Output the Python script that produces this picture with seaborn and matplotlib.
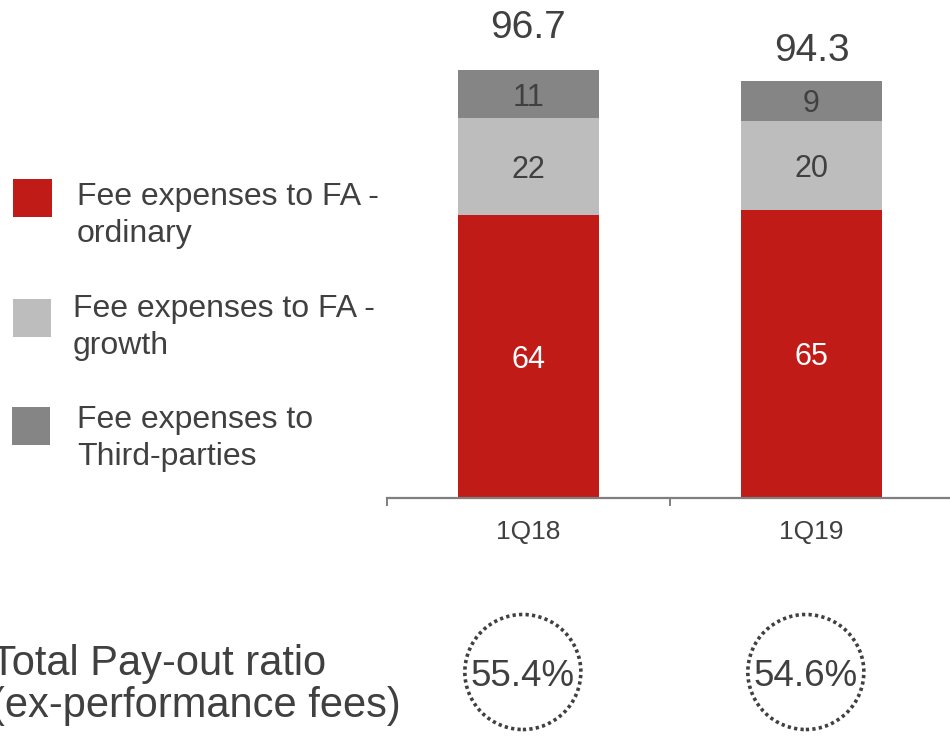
import matplotlib
matplotlib.use("Agg")
import matplotlib.pyplot as plt
import matplotlib.transforms as mtransforms
from matplotlib.patches import Rectangle, Ellipse
import pandas as pd
import seaborn as sns

# ---- data -------------------------------------------------------------
quarters = ["1Q18", "1Q19"]
fa_ordinary = [63.9, 65.1]
fa_growth = [21.9, 20.0]
third_parties = [10.9, 9.2]
totals = [96.7, 94.3]
payout_ratio = ["55.4%", "54.6%"]

series_names = ["Fee expenses to FA -\nordinary",
                "Fee expenses to FA -\ngrowth",
                "Fee expenses to\nThird-parties"]

# ---- style ------------------------------------------------------------
RED = "#C11B17"
LIGHT = "#BDBDBD"
DARK = "#858585"
TXT = "#404040"
AXIS = "#7F7F7F"

sns.set_theme(style="white")
plt.rcParams["font.family"] = ["Liberation Sans", "DejaVu Sans"]

W, H = 950, 738
fig = plt.figure(figsize=(W / 100, H / 100), dpi=100)


def fx(px):
    return px / W


def fy(py):
    return 1 - py / H


PX_PER_UNIT = 4.426
ax = fig.add_axes([fx(387), fy(498), 566 / W, 498 / H])

df = pd.DataFrame({
    "quarter": quarters,
    "ordinary": fa_ordinary,
    "growth": fa_growth,
    "third": third_parties,
})
df["b_growth"] = df["ordinary"]
df["b_third"] = df["ordinary"] + df["growth"]

sns.barplot(data=df, x="quarter", y="ordinary", order=quarters, color=RED,
            saturation=1, width=0.5, ax=ax, linewidth=0)
sns.barplot(data=df, x="quarter", y="growth", order=quarters, color=LIGHT,
            saturation=1, width=0.5, ax=ax, linewidth=0,
            bottom=df["b_growth"].to_numpy())
sns.barplot(data=df, x="quarter", y="third", order=quarters, color=DARK,
            saturation=1, width=0.5, ax=ax, linewidth=0,
            bottom=df["b_third"].to_numpy())

ax.set_xlim(-0.5, 1.5)
ax.set_ylim(0, 498 / PX_PER_UNIT)

# segment value labels
for i in range(len(quarters)):
    o, g, t = fa_ordinary[i], fa_growth[i], third_parties[i]
    ax.text(i, o / 2, f"{o:.0f}", ha="center", va="center_baseline",
            color="white", fontsize=22)
    ax.text(i, o + g / 2, f"{g:.0f}", ha="center", va="center_baseline",
            color=TXT, fontsize=22)
    ax.text(i, o + g + t / 2, f"{t:.0f}", ha="center", va="center_baseline",
            color=TXT, fontsize=22)

# totals above the stacks
total_offsets = [33, 24]
for i, tot in enumerate(totals):
    ax.annotate(f"{tot:.1f}", (i, tot), xytext=(0, total_offsets[i]),
                textcoords="offset points", ha="center", va="center_baseline",
                color=TXT, fontsize=28, annotation_clip=False)

# axes cosmetics
for side in ("left", "top", "right"):
    ax.spines[side].set_visible(False)
ax.spines["bottom"].set_color(AXIS)
ax.spines["bottom"].set_linewidth(1.6)
ax.set_yticks([])
ax.set_xticks([-0.5, 0.5, 1.5])
ax.set_xticklabels([])
ax.set_xticks([0, 1], minor=True)
ax.set_xticklabels(quarters, minor=True)
ax.tick_params(axis="x", which="major", direction="out", length=6,
               width=1.4, color=AXIS, bottom=True)
ax.tick_params(axis="x", which="minor", length=0, pad=16,
               labelsize=19, labelcolor=TXT)
ax.set_xlabel("")
ax.set_ylabel("")

# legend drawn at the left
legend_items = [
    (RED, (13, 179, 39, 38), 77, (205, 242)),
    (LIGHT, (13, 299, 38, 38), 73, (317, 354)),
    (DARK, (12, 407, 38, 38), 77, (428, 465)),
]
for name, (col, (x0, y0, w, h), tx, baselines) in zip(series_names, legend_items):
    fig.add_artist(Rectangle((fx(x0), fy(y0 + h)), w / W, h / H,
                             transform=fig.transFigure, color=col, lw=0))
    for line, by in zip(name.split("\n"), baselines):
        fig.text(fx(tx), fy(by), line, ha="left", va="baseline",
                 color=TXT, fontsize=23)

# pay-out ratio row
fig.text(fx(-9), fy(675), "Total Pay-out ratio", ha="left", va="baseline",
         color=TXT, fontsize=30)
fig.text(fx(-9), fy(717), "(ex-performance fees)", ha="left",
         va="baseline", color=TXT, fontsize=30)

trans = mtransforms.blended_transform_factory(ax.transData, fig.transFigure)
for i, ratio in enumerate(payout_ratio):
    fig.add_artist(Ellipse((i - 0.02, fy(672)), width=116 / 283,
                           height=115 / H, transform=trans, fill=False,
                           ec=TXT, lw=2.6, ls=(0, (0.9, 0.9))))
    fig.text(i - 0.02, fy(676), ratio, transform=trans, ha="center",
             va="center", color=TXT, fontsize=26.5)

fig.savefig("out.png", dpi=100)
